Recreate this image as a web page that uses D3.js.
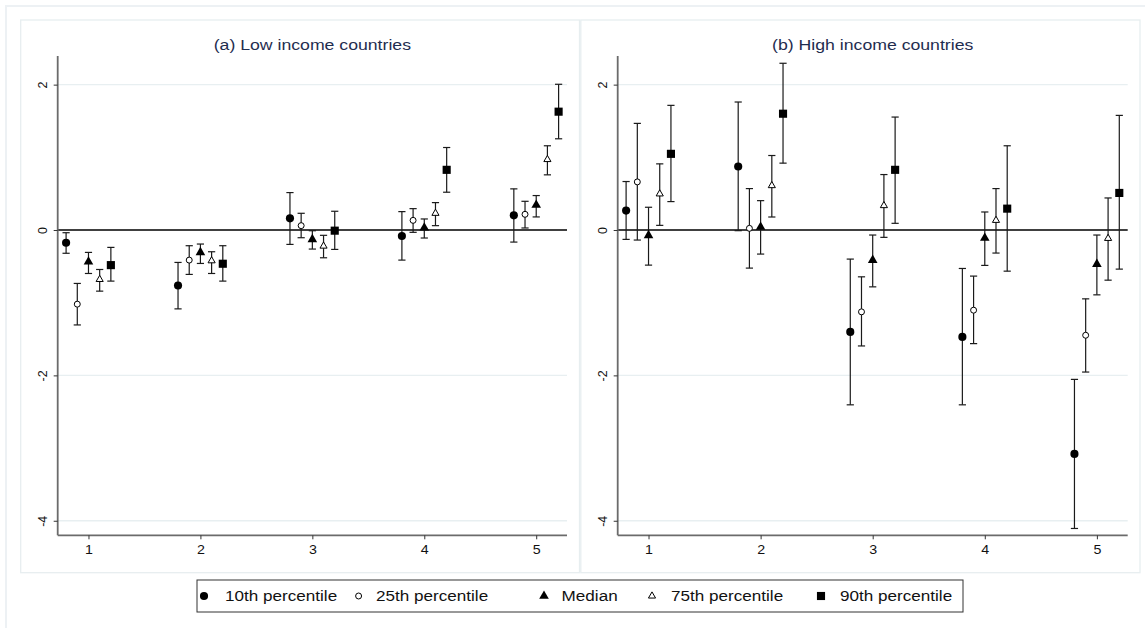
<!DOCTYPE html>
<html>
<head>
<meta charset="utf-8">
<script src="https://cdn.jsdelivr.net/npm/d3@7"></script>
<style>
  html, body { margin: 0; padding: 0; background: #ffffff; }
  svg { display: block; font-family: "Liberation Sans", Arial, sans-serif; }
</style>
</head>
<body>
<svg id="chart" width="1145" height="628"></svg>
<script>
// ---------- data ----------
const groups = [1, 2, 3, 4, 5];
const seriesNames = ["10th percentile", "25th percentile", "Median", "75th percentile", "90th percentile"];
const seriesOffsets = [-0.2, -0.1, 0, 0.1, 0.2];
const panelTitles = ["(a) Low income countries", "(b) High income countries"];
const yTicks = [-4, -2, 0, 2];
const xTicks = [1, 2, 3, 4, 5];

// Low income: estimate, lower CI, upper CI per series (rows) x group (cols)
const lowEst = [
  [-0.175, -0.763, 0.161, -0.083, 0.202],
  [-1.02, -0.414, 0.06, 0.133, 0.216],
  [-0.437, -0.308, -0.129, 0.032, 0.345],
  [-0.68, -0.423, -0.221, 0.23, 0.97],
  [-0.483, -0.464, -0.009, 0.828, 1.628]
];
const lowLo = [
  [-0.32, -1.085, -0.198, -0.414, -0.166],
  [-1.306, -0.611, -0.106, -0.032, 0.028],
  [-0.598, -0.46, -0.262, -0.11, 0.18],
  [-0.841, -0.598, -0.382, 0.06, 0.759],
  [-0.703, -0.703, -0.267, 0.52, 1.255]
];
const lowHi = [
  [-0.037, -0.446, 0.515, 0.253, 0.566],
  [-0.735, -0.216, 0.23, 0.294, 0.395],
  [-0.308, -0.193, -0.01, 0.152, 0.474],
  [-0.543, -0.299, -0.073, 0.377, 1.159],
  [-0.239, -0.216, 0.258, 1.135, 2.005]
];
// High income
const highEst = [
  [0.267, 0.874, -1.402, -1.471, -3.08],
  [0.662, 0.023, -1.126, -1.103, -1.448],
  [-0.074, 0.041, -0.414, -0.11, -0.469],
  [0.497, 0.611, 0.336, 0.133, -0.115],
  [1.048, 1.6, 0.828, 0.294, 0.51]
];
const highLo = [
  [-0.129, -0.009, -2.405, -2.405, -4.106],
  [-0.138, -0.524, -1.595, -1.563, -1.954],
  [-0.483, -0.331, -0.782, -0.487, -0.892],
  [0.064, 0.179, -0.101, -0.317, -0.69],
  [0.391, 0.92, 0.092, -0.566, -0.538]
];
const highHi = [
  [0.667, 1.761, -0.4, -0.529, -2.055],
  [1.467, 0.57, -0.644, -0.634, -0.947],
  [0.313, 0.404, -0.069, 0.248, -0.069],
  [0.91, 1.025, 0.763, 0.57, 0.441],
  [1.715, 2.294, 1.554, 1.159, 1.577]
];

// ---------- styling ----------
const markerDefs = [
  { type: d3.symbolCircle, size: 52, fill: "#000", stroke: "none" },
  { type: d3.symbolCircle, size: 28, fill: "#fff", stroke: "#000" },
  { type: d3.symbolTriangle, size: 40, fill: "#000", stroke: "none" },
  { type: d3.symbolTriangle, size: 22, fill: "#fff", stroke: "#000" },
  { type: d3.symbolSquare, size: 66, fill: "#000", stroke: "none" }
];
const SX = 1.14; // horizontal text stretch seen in the reference

const svg = d3.select("#chart");

// outer frame
svg.append("rect").attr("x", 6).attr("y", 6).attr("width", 1160).attr("height", 640)
  .attr("fill", "#fff").attr("stroke", "#edf1f4").attr("stroke-width", 2);

const panels = [
  { title: panelTitles[0], est: lowEst, lo: lowLo, hi: lowHi, box: [20.7, 20, 579.5, 572.7], plot: [57.7, 567] },
  { title: panelTitles[1], est: highEst, lo: highLo, hi: highHi, box: [580.8, 20, 1140, 572.7], plot: [617.7, 1127.7] }
];

const plotTop = 56, plotBottom = 535.3;

panels.forEach(p => {
  const g = svg.append("g");
  g.append("rect").attr("x", p.box[0]).attr("y", p.box[1])
    .attr("width", p.box[2] - p.box[0]).attr("height", p.box[3] - p.box[1])
    .attr("fill", "#fff").attr("stroke", "#e7eef0").attr("stroke-width", 1.3);

  const x = d3.scaleLinear().domain([0.725, 5.275]).range([p.plot[0], p.plot[1]]);
  const y = d3.scaleLinear().domain([-4.2, 2.394]).range([plotBottom, plotTop]);

  // gridlines
  g.selectAll("line.grid").data(yTicks.filter(t => t !== 0)).join("line")
    .attr("class", "grid")
    .attr("x1", p.plot[0]).attr("x2", p.plot[1])
    .attr("y1", d => y(d)).attr("y2", d => y(d))
    .attr("stroke", "#e8eff1").attr("stroke-width", 1.3);

  // zero line
  g.append("line").attr("x1", p.plot[0]).attr("x2", p.plot[1])
    .attr("y1", y(0)).attr("y2", y(0)).attr("stroke", "#000").attr("stroke-width", 1.5);

  // title
  g.append("text")
    .attr("transform", `translate(${(p.plot[0] + p.plot[1]) / 2},49.5) scale(${SX},1)`)
    .attr("text-anchor", "middle").attr("font-size", 15.5).attr("fill", "#1f2d4f")
    .text(p.title);

  // y axis
  const yAxis = d3.axisLeft(y).tickValues(yTicks).tickSize(4).tickPadding(6).tickFormat(d3.format("d"));
  const ya = g.append("g").attr("transform", `translate(${p.plot[0]},0)`).call(yAxis);
  ya.select(".domain").attr("stroke", "#6b6b6b").attr("stroke-width", 1.8).attr("d", `M0,${plotTop}V${plotBottom}`);
  ya.selectAll(".tick line").attr("stroke", "#333").attr("stroke-width", 1);
  ya.selectAll(".tick text").attr("font-size", 12.5).attr("fill", "#111")
    .attr("font-family", "Liberation Sans, Arial, sans-serif")
    .attr("text-anchor", "middle").attr("dy", null)
    .attr("transform", "translate(-15,0) rotate(-90)")
    .attr("x", 0).attr("y", 0).attr("dominant-baseline", "central")
    .text(d => d < 0 ? "-" + Math.abs(d) : d);

  // x axis
  const xAxis = d3.axisBottom(x).tickValues(xTicks).tickSize(4).tickPadding(6).tickFormat(d3.format("d"));
  const xa = g.append("g").attr("transform", `translate(0,${plotBottom})`).call(xAxis);
  xa.select(".domain").attr("stroke", "#6b6b6b").attr("stroke-width", 1.8).attr("d", `M${p.plot[0]},0H${p.plot[1]}`);
  xa.selectAll(".tick line").attr("stroke", "#333").attr("stroke-width", 1);
  xa.selectAll(".tick text").attr("font-size", 12.5).attr("fill", "#111")
    .attr("font-family", "Liberation Sans, Arial, sans-serif")
    .attr("transform", `scale(${SX},1)`).attr("x", 0);

  // error bars and markers
  seriesNames.forEach((name, si) => {
    const rows = groups.map((gv, gi) => ({
      x: gv + seriesOffsets[si], est: p.est[si][gi], lo: p.lo[si][gi], hi: p.hi[si][gi]
    }));
    const sg = g.append("g");
    const cap = 3.6;
    sg.selectAll("line.ci").data(rows).join("line").attr("class", "ci")
      .attr("x1", d => x(d.x)).attr("x2", d => x(d.x))
      .attr("y1", d => y(d.lo)).attr("y2", d => y(d.hi))
      .attr("stroke", "#1a1a1a").attr("stroke-width", 1.2);
    sg.selectAll("line.caplo").data(rows).join("line").attr("class", "caplo")
      .attr("x1", d => x(d.x) - cap).attr("x2", d => x(d.x) + cap)
      .attr("y1", d => y(d.lo)).attr("y2", d => y(d.lo))
      .attr("stroke", "#1a1a1a").attr("stroke-width", 1.2);
    sg.selectAll("line.caphi").data(rows).join("line").attr("class", "caphi")
      .attr("x1", d => x(d.x) - cap).attr("x2", d => x(d.x) + cap)
      .attr("y1", d => y(d.hi)).attr("y2", d => y(d.hi))
      .attr("stroke", "#1a1a1a").attr("stroke-width", 1.2);
    const md = markerDefs[si];
    sg.selectAll("path.mk").data(rows).join("path").attr("class", "mk")
      .attr("d", d3.symbol().type(md.type).size(md.size))
      .attr("transform", d => `translate(${x(d.x)},${y(d.est)})`)
      .attr("fill", md.fill).attr("stroke", md.stroke).attr("stroke-width", 1);
  });
});

// legend
const lg = svg.append("g");
lg.append("rect").attr("x", 197).attr("y", 580).attr("width", 766).attr("height", 32)
  .attr("fill", "#fff").attr("stroke", "#333").attr("stroke-width", 1);
const legendMarkerX = [204, 358.6, 544, 652, 821];
const legendTextX = [225, 376, 561.6, 671, 840];
seriesNames.forEach((name, si) => {
  const md = markerDefs[si];
  lg.append("path").attr("d", d3.symbol().type(md.type).size(md.size))
    .attr("transform", `translate(${legendMarkerX[si]},596)`)
    .attr("fill", md.fill).attr("stroke", md.stroke).attr("stroke-width", 1);
  lg.append("text")
    .attr("transform", `translate(${legendTextX[si]},596) scale(${SX},1)`)
    .attr("dy", "0.35em")
    .attr("font-size", 15).attr("fill", "#111").text(name);
});
</script>
</body>
</html>
